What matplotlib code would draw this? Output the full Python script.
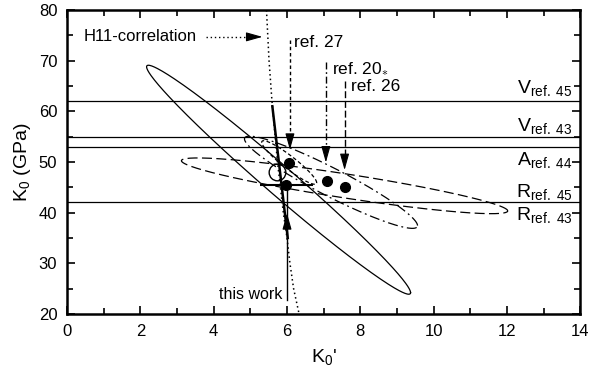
import numpy as np
import matplotlib
matplotlib.use("Agg")
import matplotlib.pyplot as plt

plt.rcParams["font.family"] = "Liberation Sans"
plt.rcParams["mathtext.fontset"] = "custom"
plt.rcParams["mathtext.rm"] = "Liberation Sans"
plt.rcParams["mathtext.it"] = "Liberation Sans:italic"

# K0 values reported by other works (horizontal reference lines)
ref_levels = [62.1, 55.0, 53.0, 42.2]
ref_letters = ["V", "V", "A", "R", "R"]
ref_names = ["ref. 45", "ref. 43", "ref. 44", "ref. 45", "ref. 43"]
ref_label_k0 = [64.6, 57.2, 50.4, 44.0, 39.6]

# fitted (K0', K0) pairs: ref. 27, ref. 20, ref. 26, this work
fit_kp = [6.06, 7.10, 7.57, 5.98]
fit_k0 = [49.9, 46.3, 45.0, 45.5]
h11_kp_pt = [5.74]
h11_k0_pt = [48.1]

# confidence ellipses: centre, std devs, correlation
ell_kp = [5.77, 7.57, 7.20, 6.06]
ell_k0 = [46.5, 45.3, 46.0, 49.9]
ell_skp = [3.60, 4.45, 2.36, 0.75]
ell_sk0 = [22.6, 5.5, 9.1, 4.3]
ell_rho = [-0.986, -0.90, -0.94, -0.93]
ell_dash = ["-", (0, (8, 3.5)), (0, (8, 3, 1.5, 3)), (0, (3, 2))]

# H11 correlation curve
h11_k0 = [80, 70, 62, 50, 40, 35, 30, 25, 20]
h11_kp = [5.44, 5.51, 5.59, 5.74, 5.90, 6.00, 6.08, 6.18, 6.33]

# K0-K0' trade-off line of this work
tw_kp = [5.60, 6.02]
tw_k0 = [61.0, 35.0]


def ellipse(cx, cy, sx, sy, rho, n=300):
    t = np.linspace(0, 2 * np.pi, n)
    x = cx + sx * np.cos(t)
    y = cy + sy * (rho * np.cos(t) + np.sqrt(1 - rho ** 2) * np.sin(t))
    return x, y


def head(ax, x, y, dx=0.0, dy=0.0):
    ax.annotate("", xy=(x, y), xytext=(x - dx, y - dy),
                arrowprops=dict(arrowstyle="-|>,head_length=1.0,head_width=0.28",
                                color="k", lw=0.8, shrinkA=0, shrinkB=0))


fig = plt.figure(figsize=(5.9, 3.75), dpi=100)
ax = fig.add_axes([0.1136, 0.1627, 0.870, 0.8106])

for lev in ref_levels:
    ax.axhline(lev, color="k", lw=0.9)
for letter, name, y in zip(ref_letters, ref_names, ref_label_k0):
    ax.text(13.8, y, letter + r"$_{\mathrm{" + name.replace(" ", r"\ ") + "}}$",
            ha="right", va="center", fontsize=14)

for cx, cy, sx, sy, r, ls in zip(ell_kp, ell_k0, ell_skp, ell_sk0, ell_rho, ell_dash):
    ex, ey = ellipse(cx, cy, sx, sy, r)
    ax.plot(ex, ey, color="k", lw=0.9, linestyle=ls)

ax.plot(h11_kp, h11_k0, color="k", lw=1.1, linestyle=(0, (1, 2)))
ax.plot(tw_kp, tw_k0, color="k", lw=1.8)

ax.plot(fit_kp, fit_k0, "o", color="k", ms=7, zorder=5)
ax.errorbar(fit_kp[3], fit_k0[3], xerr=0.72, fmt="none", ecolor="k", elinewidth=1.5, capsize=0)
ax.plot(h11_kp_pt, h11_k0_pt, "o", mfc="none", mec="k", mew=1.0, ms=12, zorder=5)

# H11-correlation label
ax.text(0.45, 74.7, "H11-correlation", ha="left", va="center", fontsize=12)
ax.plot([3.8, 5.0], [74.7, 74.7], color="k", lw=1.0, linestyle=(0, (1, 2)))
head(ax, 5.33, 74.7, dx=0.3)

# reference arrows
ax.text(6.2, 73.6, "ref. 27", ha="left", va="center", fontsize=12.5)
ax.plot([6.08, 6.08], [74.1, 54.0], color="k", lw=1.0, linestyle=(0, (2.5, 2)))
head(ax, 6.08, 52.4, dy=-2.0)

ax.text(7.22, 68.5, r"ref. 20$_{\ast}$", ha="left", va="center", fontsize=12.5)
ax.plot([7.06, 7.06], [69.8, 52.0], color="k", lw=1.0, linestyle=(0, (5, 2, 1.2, 2)))
head(ax, 7.06, 49.9, dy=-2.0)

ax.text(7.74, 65.0, "ref. 26", ha="left", va="center", fontsize=12.5)
ax.plot([7.57, 7.57], [66.0, 50.6], color="k", lw=1.0, linestyle=(0, (5, 2)))
head(ax, 7.57, 48.4, dy=-2.0)

# this work
ax.text(5.88, 23.8, "this work", ha="right", va="center", fontsize=11.5)
ax.plot([6.0, 6.0], [22.8, 45.5], color="k", lw=1.0)
head(ax, 6.0, 39.9, dy=2.0)

ax.set_xlim(0, 14)
ax.set_ylim(20, 80)
ax.set_xticks(np.arange(0, 15, 2))
ax.set_xticks(np.arange(0, 15, 1), minor=True)
ax.set_yticks(np.arange(20, 81, 10))
ax.set_yticks(np.arange(20, 81, 5), minor=True)
ax.tick_params(which="both", direction="in", top=True, right=True, labelsize=12, width=1.2)
ax.tick_params(which="major", length=6, pad=7)
ax.tick_params(which="minor", length=4)
for sp in ax.spines.values():
    sp.set_linewidth(1.8)

ax.set_xlabel("K$_0$'", fontsize=14, labelpad=6)
ax.set_ylabel("K$_0$ (GPa)", fontsize=14)

fig.savefig("out.png", dpi=100)
